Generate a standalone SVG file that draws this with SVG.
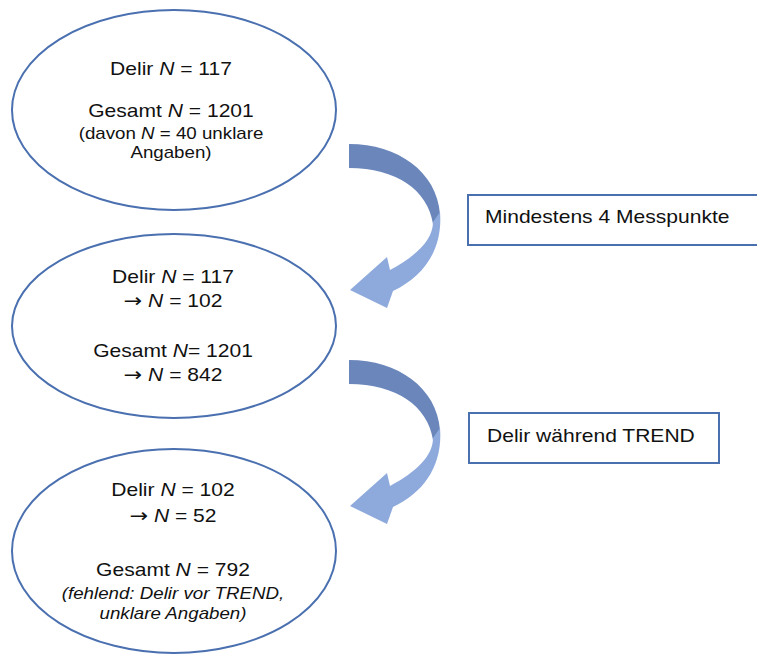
<svg xmlns="http://www.w3.org/2000/svg" width="757" height="657" viewBox="0 0 757 657">
<style>
.ell{fill:#fff;stroke:#4a70b0;stroke-width:2}
.box{fill:#fff;stroke:#4a70b0;stroke-width:2}
text{font-family:"Liberation Sans",Arial,sans-serif;fill:#111}
.m{font-size:18px;text-anchor:middle}
.s{font-size:16px;text-anchor:middle}
.l{font-size:18px;text-anchor:start}
.i{font-style:italic}
.ar{font-family:"DejaVu Sans",sans-serif;font-size:19px}
.back{fill:#6a86bb}
.front{fill:#8eaadd}
</style>
<defs>
<g id="curved">
<path class="back" d="M349,144 C398,144 437,172 440,214 L433,224 C428,190 396,168 349,168 Z"/>
<path class="front" d="M440,212 C443,248 425,276 393,291 L387,308 L350,290 L387,257 L390,270 C416,256 433,240 433,222 Z"/>
</g>
</defs>
<rect width="757" height="657" fill="#fff"/>
<g id="connectors">
<use href="#curved"/>
<use href="#curved" transform="translate(0,216)"/>
</g>
<g id="node1">
<ellipse class="ell" cx="174" cy="110" rx="162" ry="100"/>
<g transform="translate(171,0) scale(1.17,1)">
<text class="m" x="0" y="75">Delir <tspan class="i">N</tspan> = 117</text>
<text class="m" x="0" y="117">Gesamt <tspan class="i">N</tspan> = 1201</text>
<text class="s" x="0" y="139">(davon <tspan class="i">N</tspan> = 40 unklare</text>
<text class="s" x="0" y="158">Angaben)</text>
</g>
</g>
<g id="node2">
<ellipse class="ell" cx="174" cy="326" rx="162" ry="92"/>
<g transform="translate(173,0) scale(1.17,1)">
<text class="m" x="0" y="283">Delir <tspan class="i">N</tspan> = 117</text>
<text class="m" x="0" y="307"><tspan class="ar">→</tspan> <tspan class="i">N</tspan> = 102</text>
<text class="m" x="0" y="357">Gesamt <tspan class="i">N</tspan>= 1201</text>
<text class="m" x="0" y="381"><tspan class="ar">→</tspan> <tspan class="i">N</tspan> = 842</text>
</g>
</g>
<g id="node3">
<ellipse class="ell" cx="174" cy="551" rx="162" ry="102"/>
<g transform="translate(173,0) scale(1.17,1)">
<text class="m" x="0" y="496">Delir <tspan class="i">N</tspan> = 102</text>
<text class="m" x="0" y="522"><tspan class="ar">→</tspan> <tspan class="i">N</tspan> = 52</text>
<text class="m" x="0" y="576">Gesamt <tspan class="i">N</tspan> = 792</text>
<text class="s i" x="0" y="599">(fehlend: Delir vor TREND,</text>
<text class="s i" x="0" y="619">unklare Angaben)</text>
</g>
</g>
<g id="label1">
<rect class="box" x="468" y="195" width="300" height="50"/>
<g transform="translate(485,0) scale(1.17,1)">
<text class="l" x="0" y="223">Mindestens 4 Messpunkte</text>
</g>
</g>
<g id="label2">
<rect class="box" x="469" y="413" width="250" height="50"/>
<g transform="translate(487,0) scale(1.17,1)">
<text class="l" x="0" y="442">Delir während TREND</text>
</g>
</g>
</svg>
